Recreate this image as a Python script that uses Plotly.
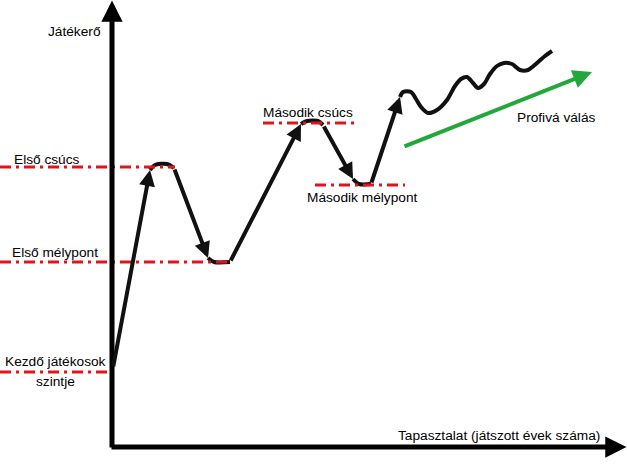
import plotly.graph_objects as go

# ---- data (x = experience, y = skill level; chart units) ----
path_x = [113, 150, 155, 167, 174, 208, 214, 230, 301, 307, 318, 323, 353, 359, 371, 400,
          403, 411, 416, 421, 428, 437, 447, 455, 461, 467, 473, 478, 484, 490, 497, 504,
          512, 520, 528, 537, 545, 552]
path_y = [105, 303, 308, 309, 305, 215, 211, 211, 349, 352, 352, 348, 294, 289, 289, 376,
          381, 381, 374, 366, 360, 363, 373, 387, 394, 396, 390, 385, 389, 399, 407, 410,
          409, 403, 403, 410, 417, 422]
# straight arrow segments of the path (tail index, tip index)
arrow_segments = [(0, 1), (4, 5), (7, 8), (11, 12), (14, 15)]

level_y = [306, 211, 101, 350, 288]
level_x0 = [0, 0, 0, 263, 315]
level_x1 = [175, 232, 110, 355, 405]

pro_arrow_x = [403, 592]
pro_arrow_y = [326, 401]

label_text = ["Játékerő", "Első csúcs", "Első mélypont", "Kezdő játékosok", "szintje",
              "Második csúcs", "Második mélypont", "Profivá válás",
              "Tapasztalat (játszott évek száma)"]
label_x = [74, 47, 55, 55, 55, 308, 362, 556, 499]
label_y = [442, 314, 221, 112, 92, 361, 276, 356, 38]

W, H = 627, 473

fig = go.Figure()

# curved pieces of the path (between the arrows)
curve_pieces = [(1, 4), (5, 7), (8, 11), (12, 14), (15, len(path_x) - 1)]
for a, b in curve_pieces:
    fig.add_trace(go.Scatter(x=path_x[a:b + 1], y=path_y[a:b + 1], mode="lines",
                             line=dict(color="#111111", width=4, shape="spline", smoothing=0.8),
                             hoverinfo="skip", showlegend=False))

# red dash-dot level lines
for x0, x1, y in zip(level_x0, level_x1, level_y):
    fig.add_trace(go.Scatter(x=[x0, x1], y=[y, y], mode="lines",
                             line=dict(color="#e3131b", width=3, dash="11px,5px,3px,5px"),
                             hoverinfo="skip", showlegend=False))

ann = []
# axes
ann.append(dict(x=112, y=472.5, ax=112, ay=24, xref="x", yref="y", axref="x", ayref="y",
                showarrow=True, arrowhead=2, arrowwidth=5, arrowsize=0.85, arrowcolor="#000",
                text="", standoff=0))
ann.append(dict(x=626.5, y=26, ax=110, ay=26, xref="x", yref="y", axref="x", ayref="y",
                showarrow=True, arrowhead=2, arrowwidth=5, arrowsize=0.85, arrowcolor="#000",
                text="", standoff=0))
# path arrows
for t, h in arrow_segments:
    ann.append(dict(x=path_x[h], y=path_y[h], ax=path_x[t], ay=path_y[t],
                    xref="x", yref="y", axref="x", ayref="y", showarrow=True,
                    arrowhead=2, arrowwidth=4, arrowsize=0.8, arrowcolor="#111111",
                    text="", standoff=0))
# green arrow
ann.append(dict(x=pro_arrow_x[1], y=pro_arrow_y[1], ax=pro_arrow_x[0], ay=pro_arrow_y[0],
                xref="x", yref="y", axref="x", ayref="y", showarrow=True,
                arrowhead=2, arrowwidth=4, arrowsize=0.95, arrowcolor="#22a83a",
                text="", standoff=0))

font = dict(family="Liberation Sans, Arial, sans-serif", size=13.7, color="#000000")
for txt, x, y in zip(label_text, label_x, label_y):
    ann.append(dict(x=x, y=y, xref="x", yref="y", text=txt, showarrow=False,
                    xanchor="center", yanchor="middle", font=font))

fig.update_layout(
    width=W, height=H,
    margin=dict(l=0, r=0, t=0, b=0),
    paper_bgcolor="white", plot_bgcolor="white",
    xaxis=dict(range=[0, W], visible=False, fixedrange=True),
    yaxis=dict(range=[0, H], visible=False, fixedrange=True),
    annotations=ann,
    showlegend=False,
    hovermode=False,
)

fig.write_html("out.html", config={"displayModeBar": False, "staticPlot": True},
               post_script="document.body.style.margin='0';")
